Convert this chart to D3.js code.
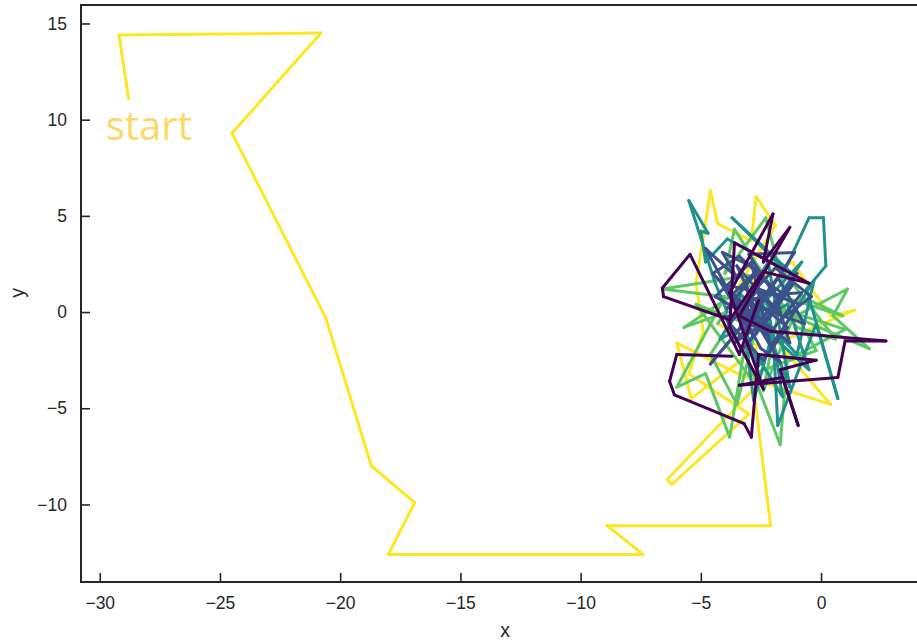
<!DOCTYPE html>
<html>
<head>
<meta charset="utf-8">
<script src="https://cdn.jsdelivr.net/npm/d3@7"></script>
<style>
  body { margin: 0; background: #fff; }
  svg { display: block; }
</style>
</head>
<body>
<svg id="chart"></svg>
<script>
// random walk, in order: yellow (start) -> green -> teal -> blue -> purple (end)
var walkX = [
  -28.8, -29.2, -20.8, -24.5, -20.6, -18.7, -16.9, -18.0, -7.4, -8.9, -2.1,
  // yellow, in the cloud
  -2.8, -6.4, -6.2, -3.0, -5.5, -4.9, -5.2, -4.6, -4.3, -2.9, -2.7, -1.9, -3.5, -1.2, 0.4, 1.4, -1.8, 0.4, -3.3, -6.0, -5.4, -2.6, -4.3,
  // green
  -3.0, -6.6, -4.0, -6.0, -4.8, -3.8, -3.2, -1.7, -1.4, 1.0, -2.5, 2.0, 0.5, 1.1, -1.2, -2.3, -4.0, -3.6, -1.0, 0.6, -2.0, -4.6, -3.5, -2.7, -5.2, -3.0, -0.2, -1.6, -2.4, -0.8, 0.9, -3.1, -5.7, -3.9,
  // teal
  -4.4, -5.5, -4.7, -5.0, -4.8, -3.9, -1.2, -3.7, -1.5, -0.5, 0.1, 0.2, -0.6, 0.7, -0.2, -1.8, -2.0, -2.8, -3.4, -1.0, -0.3, -2.6, -3.6, -0.5, -1.4, -4.2, -2.2, -1.3, -2.6, -0.8, -3.0, -1.6, -2.3,
  // blue
  -3.2, -4.8, -3.5, -4.1, -2.6, -3.9, -2.0, -3.0, -1.1, -2.4, -4.6, -3.4, -2.7, -1.6, -0.4, -1.9, -3.3, -4.2, -2.8, -1.2, -2.2, -3.6, -2.5, -0.7, -1.8, -3.0, -4.4, -2.9, -2.1, -0.9, -2.6, -3.8, -2.4, -1.4, -2.9, -3.5, -2.0, -1.0, -2.7, -3.1,
  -2.3, -3.7, -2.8, -1.5, -3.3, -4.0, -2.6, -1.3, -2.0, -3.4, -4.5, -3.0, -1.7, -2.5, -3.9, -2.2, -0.8, -2.0, -3.3, -2.6,
  // purple
  -3.4, -5.45, -6.6, -6.55, -3.8, -2.4, -0.5, -3.6, -3.8, -2.4, -3.8, -2.0, -2.4, -1.3, -3.4, -2.1, 2.7, 1.0, 0.7, -3.4, -1.6, -0.95, -1.7, -0.2, -2.6, -2.9, -3.2, -6.1, -6.3, -6.0, -3.7
];
var walkY = [
  11.1, 14.4, 14.5, 9.3, -0.3, -8.0, -9.9, -12.6, -12.6, -11.1, -11.1,
  -4.0, -8.7, -8.95, -5.3, -3.2, -1.0, 1.5, 6.3, 4.6, 3.7, 6.0, 4.5, 1.2, 2.6, -0.2, 0.1, -1.6, -4.8, -3.3, -1.6, -4.5, -1.8, -0.6,
  1.9, 1.2, 0.8, -3.9, -3.2, -6.5, -2.0, -6.9, -2.5, -0.9, 0.5, -1.9, -0.2, 1.2, -0.3, 4.9, 2.0, 4.3, -0.8, -1.4, 2.8, -2.2, -4.8, -0.8, 0.4, -3.3, -2.0, 1.2, -4.1, 0.8, -0.2, 1.4, -0.8, 0.0,
  1.5, 5.8, 4.1, 4.2, 2.6, 3.8, 2.0, 4.9, 2.2, 4.9, 4.9, 2.4, 1.2, -4.5, -0.6, -5.9, -1.0, -4.6, 1.0, -2.2, 1.6, -2.8, 0.6, -3.0, 0.4, -1.4, 2.6, -3.9, 0.2, 2.6, -1.6, -4.4, 1.0,
  -0.4, 3.3, 1.8, 3.1, 2.2, 0.2, 1.0, 3.0, 3.1, 0.6, -2.7, -0.9, 1.4, -0.3, 0.8, 2.3, 0.4, 1.6, -1.3, 1.4, -0.4, -1.6, 0.2, -0.6, 1.8, -0.2, 0.8, 2.6, -1.8, 0.4, 1.2, -0.6, -2.5, -0.8, 0.8, 2.4, 0.2, 2.0, -0.7, 1.3,
  -1.2, 0.9, 2.0, 0.9, -2.0, -0.2, -0.3, -1.6, 1.3, 2.9, 2.0, 0.1, -2.6, -1.9, 1.4, 0.9, 1.0, -0.9, -0.6, 0.6,
  -2.2, 3.0, 1.25, 0.8, -0.4, 2.1, 1.5, 3.6, -0.8, -4.0, 1.0, 5.1, 2.6, 4.4, -0.2, -1.0, -1.5, -1.5, -3.4, -3.8, -3.4, -5.9, -3.0, -2.5, -2.2, -6.5, -5.8, -4.3, -3.6, -2.2, -2.3
];
// index of the first point of each stage
var stageStarts = [0, 34, 68, 101, 161];
var stageColors = ["#fde725", "#5ec962", "#21918c", "#3b528b", "#440154"];
var xTicks = [-30, -25, -20, -15, -10, -5, 0];
var yTicks = [-10, -5, 0, 5, 10, 15];
var xLimits = [-30.78, 4.49];
var yLimits = [-14.03, 15.96];

var width = 917, height = 640;
// the figure is cut on the right, the axes run past the edge
var margin = {top: 5, right: -12, bottom: 58, left: 81};

var svg = d3.select("#chart")
    .attr("width", width)
    .attr("height", height)
    .style("font-family", "'Liberation Sans', Arial, sans-serif");

var x = d3.scaleLinear().domain(xLimits).range([margin.left, width - margin.right]);
var y = d3.scaleLinear().domain(yLimits).range([height - margin.bottom, margin.top]);

var stage = d3.scaleThreshold().domain(stageStarts.slice(1)).range(stageColors);

var segs = d3.range(walkX.length - 1).map(function(i) {
  return {i: i, x1: walkX[i], y1: walkY[i], x2: walkX[i + 1], y2: walkY[i + 1]};
});

svg.append("g")
    .selectAll("line")
    .data(segs)
    .enter()
    .append("line")
    .attr("x1", d => x(d.x1))
    .attr("y1", d => y(d.y1))
    .attr("x2", d => x(d.x2))
    .attr("y2", d => y(d.y2))
    .attr("stroke", d => stage(d.i + 1))
    .attr("stroke-width", 3)
    .attr("stroke-linecap", "round");

svg.append("text")
    .attr("x", x(-29.75))
    .attr("y", y(8.95))
    .attr("font-family", "'Open Sans', sans-serif")
    .attr("font-size", 40)
    .attr("fill", "#fdd867")
    .text("start");

// axes, ticks point inward
var fmt = d => String(d).replace("-", "\u2212");
var xAxis = svg.append("g")
    .attr("transform", "translate(0," + (height - margin.bottom) + ")")
    .call(d3.axisBottom(x).tickValues(xTicks).tickSizeInner(-9).tickSizeOuter(0).tickPadding(15).tickFormat(fmt));
var yAxis = svg.append("g")
    .attr("transform", "translate(" + margin.left + ",0)")
    .call(d3.axisLeft(y).tickValues(yTicks).tickSizeInner(-9).tickSizeOuter(0).tickPadding(14).tickFormat(fmt));

[xAxis, yAxis].forEach(function(a) {
  a.select(".domain").remove();
  a.selectAll(".tick line").attr("stroke", "#262626").attr("stroke-width", 1.6);
  a.selectAll(".tick text").attr("fill", "#262626").attr("font-size", 17.5);
});

// frame
svg.append("rect")
    .attr("x", margin.left)
    .attr("y", margin.top)
    .attr("width", width - margin.left - margin.right)
    .attr("height", height - margin.top - margin.bottom)
    .attr("fill", "none")
    .attr("stroke", "#262626")
    .attr("stroke-width", 2);

svg.append("text")
    .attr("x", (margin.left + width - margin.right) / 2)
    .attr("y", 637)
    .attr("text-anchor", "middle")
    .attr("font-size", 19.5)
    .attr("fill", "#262626")
    .text("x");

svg.append("text")
    .attr("transform", "translate(23.5," + y(1) + ") rotate(-90)")
    .attr("text-anchor", "middle")
    .attr("font-size", 19.5)
    .attr("fill", "#262626")
    .text("y");
</script>
</body>
</html>
